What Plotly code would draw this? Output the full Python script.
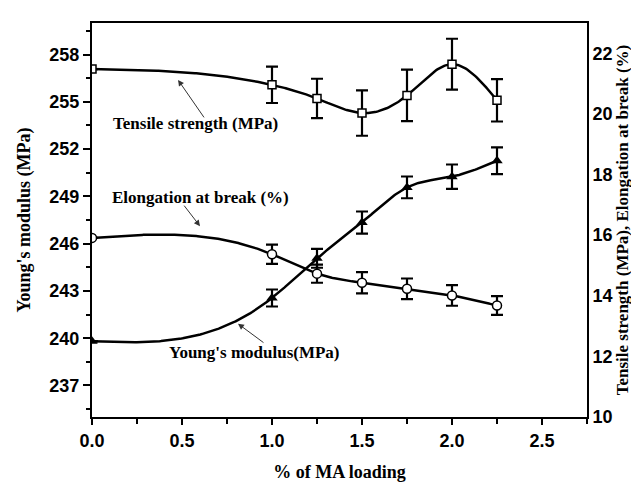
import numpy as np
import plotly.graph_objects as go

ma_loading = [0.0, 1.0, 1.25, 1.5, 1.75, 2.0, 2.25]

tensile = [21.48, 20.96, 20.51, 20.03, 20.61, 21.64, 20.45]
tensile_err = [0.0, 0.6, 0.65, 0.75, 0.85, 0.84, 0.7]

elongation = [15.91, 15.37, 14.73, 14.43, 14.23, 14.01, 13.68]
elongation_err = [0.0, 0.32, 0.3, 0.35, 0.34, 0.34, 0.31]

youngs = [239.8, 242.55, 245.07, 247.34, 249.57, 250.25, 251.26]
youngs_err = [0.0, 0.54, 0.6, 0.7, 0.69, 0.77, 0.85]

left_ticks = [237, 240, 243, 246, 249, 252, 255, 258]
right_ticks = [10, 12, 14, 16, 18, 20, 22]
x_ticks = [0.0, 0.5, 1.0, 1.5, 2.0, 2.5]

SERIF = "Liberation Serif, Times New Roman, serif"
SANS = "Liberation Sans, Arial, sans-serif"
serif_title = dict(family=SERIF, size=18, color="black")
sans_tick = dict(family=SANS, size=18, color="black")


def b(s):
    return "<b>" + s + "</b>"


def natural_spline(xs, ys, n=300):
    """Natural cubic spline through the data points, used only to draw the smooth connecting line."""
    x = np.asarray(xs, float)
    y = np.asarray(ys, float)
    k = len(x)
    h = np.diff(x)
    A = np.zeros((k, k))
    r = np.zeros(k)
    A[0, 0] = 1.0
    A[-1, -1] = 1.0
    for i in range(1, k - 1):
        A[i, i - 1] = h[i - 1]
        A[i, i] = 2 * (h[i - 1] + h[i])
        A[i, i + 1] = h[i]
        r[i] = 6 * ((y[i + 1] - y[i]) / h[i] - (y[i] - y[i - 1]) / h[i - 1])
    M = np.linalg.solve(A, r)
    xx = np.linspace(x[0], x[-1], n)
    idx = np.clip(np.searchsorted(x, xx, side="right") - 1, 0, k - 2)
    x0, x1 = x[idx], x[idx + 1]
    hh = x1 - x0
    t0 = x1 - xx
    t1 = xx - x0
    yy = (M[idx] * t0 ** 3 / (6 * hh) + M[idx + 1] * t1 ** 3 / (6 * hh)
          + (y[idx] / hh - M[idx] * hh / 6) * t0
          + (y[idx + 1] / hh - M[idx + 1] * hh / 6) * t1)
    return xx, yy


def err(arr):
    return dict(type="data", array=arr, visible=True, color="black", thickness=2.2, width=6)


fig = go.Figure()

series = [
    (youngs, youngs_err, "y", dict(symbol="triangle-up", size=10, color="black")),
    (tensile, tensile_err, "y2", dict(symbol="square", size=8, color="white", line=dict(color="black", width=1.5))),
    (elongation, elongation_err, "y2", dict(symbol="circle", size=9, color="white", line=dict(color="black", width=1.5))),
]
for vals, errs, ax, mk in series:
    sx, sy = natural_spline(ma_loading, vals)
    fig.add_trace(go.Scatter(x=sx, y=sy, yaxis=ax, mode="lines",
                             line=dict(color="black", width=2.5), hoverinfo="skip", showlegend=False))
    fig.add_trace(go.Scatter(x=ma_loading, y=vals, yaxis=ax, mode="markers",
                             marker=mk, error_y=err(errs), showlegend=False))

annotations = [
    dict(x=0.575, y=253.6, text=b("Tensile strength (MPa)"), showarrow=False),
    dict(x=0.6, y=248.9, text=b("Elongation at break (%)"), showarrow=False),
    dict(x=0.903, y=239.07, text=b("Young's modulus(MPa)"), showarrow=False),
]
for a in annotations:
    a.update(xref="x", yref="y", font=dict(family=SERIF, size=17, color="black"))

arrows = [
    dict(x=0.478, y=256.39, ax=27, ay=39),
    dict(x=0.6, y=247.11, ax=-17, ay=-22),
    dict(x=0.811, y=240.92, ax=27, ay=20),
]
for a in arrows:
    a.update(xref="x", yref="y", text="", showarrow=True, arrowhead=2, arrowsize=1.2,
             arrowwidth=1, arrowcolor="#333333", standoff=0)

fig.update_layout(
    width=639, height=483,
    margin=dict(l=84, r=60, t=15, b=64),
    paper_bgcolor="white", plot_bgcolor="white",
    xaxis=dict(
        range=[0, 2.75], tickvals=x_ticks, ticktext=[b("%.1f" % v) for v in x_ticks],
        showline=True, linecolor="black", linewidth=2, mirror=True,
        ticks="outside", ticklen=6, tickwidth=2, tickcolor="black",
        minor=dict(dtick=0.25, tick0=0, ticks="outside", ticklen=5, tickwidth=2, tickcolor="black"),
        showgrid=False, zeroline=False, tickfont=sans_tick,
        title=dict(text=b("% of MA loading"), font=serif_title, standoff=16),
    ),
    yaxis=dict(
        range=[235, 260], tickvals=left_ticks, ticktext=[b(str(v)) for v in left_ticks],
        showline=True, linecolor="black", linewidth=2,
        ticks="outside", ticklen=7, tickwidth=2, tickcolor="black",
        minor=dict(dtick=1.5, tick0=237, ticks="outside", ticklen=4, tickwidth=2, tickcolor="black"),
        showgrid=False, zeroline=False, tickfont=sans_tick,
        title=dict(text=b("Young's modulus (MPa)"), font=serif_title, standoff=14),
    ),
    yaxis2=dict(
        range=[10, 23], tickvals=right_ticks, ticktext=[b(str(v)) for v in right_ticks],
        overlaying="y", side="right",
        showline=True, linecolor="black", linewidth=2, ticks="",
        showgrid=False, zeroline=False, tickfont=sans_tick,
        title=dict(text=b("Tensile strength (MPa), Elongation at break (%)"),
                   font=dict(family=SERIF, size=17, color="black"), standoff=1),
    ),
    annotations=annotations + arrows,
)

fig.write_html("out.html")
